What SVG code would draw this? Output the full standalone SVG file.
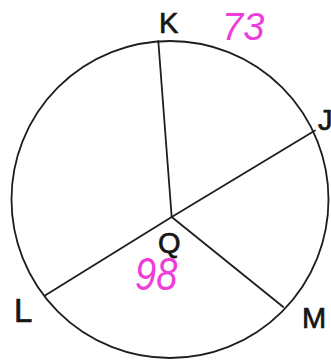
<svg xmlns="http://www.w3.org/2000/svg" width="331" height="360" viewBox="0 0 331 360">
<style>
.ln{stroke:#1e1e1e;stroke-width:1.8;fill:none;stroke-linecap:round}
.lb{font-family:"Liberation Sans",Arial,sans-serif;fill:#161616;stroke:#161616;stroke-width:0.7;font-size:29px}
.mg{font-family:"Liberation Sans",Arial,sans-serif;fill:#f03cd8;font-style:italic;font-size:38px}
</style>
<rect width="331" height="360" fill="#fff"/>
<g id="circle"><circle class="ln" cx="170" cy="199.5" r="158.5"/></g>
<g id="connectors">
<line class="ln" x1="171.7" y1="217" x2="158.3" y2="41"/>
<line class="ln" x1="171.7" y1="217" x2="315" y2="130.5"/>
<line class="ln" x1="171.7" y1="217" x2="45" y2="295.5"/>
<line class="ln" x1="171.7" y1="217" x2="283.3" y2="307"/>
</g>
<g id="K"><text class="lb" x="159" y="33">K</text></g>
<g id="J"><text class="lb" x="318" y="130">J</text></g>
<g id="L"><text class="lb" x="14" y="322" style="font-size:33px">L</text></g>
<g id="M"><text class="lb" x="302" y="328">M</text></g>
<g id="Q"><text class="lb" x="158" y="253">Q</text></g>
<g id="label73"><text class="mg" x="222" y="40">73</text></g>
<g id="label98"><text class="mg" x="135" y="290" transform="translate(0,-58) scale(1,1.2)">98</text></g>
</svg>
